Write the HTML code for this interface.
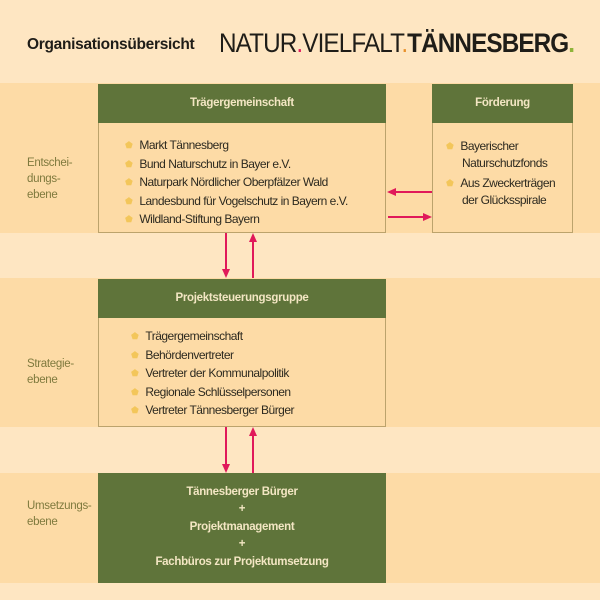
<!DOCTYPE html>
<html><head><meta charset="utf-8"><style>
body{margin:0;width:600px;height:600px;background:#fee6c2;position:relative;overflow:hidden;font-family:"Liberation Sans",sans-serif}
.abs{position:absolute}
.band{position:absolute;left:0;width:600px;background:#fddba6}
.box{position:absolute;border:1px solid #bca36c;background:#fddba6;box-sizing:border-box}
.hd{position:absolute;background:#5f743a;color:#f3e6c3;font-weight:bold;font-size:11.5px;text-align:center;box-sizing:border-box;letter-spacing:-0.3px}
.lbl{position:absolute;left:27px;color:#7f7a3e;font-size:11.5px;line-height:16px;letter-spacing:-0.3px}
ul{list-style:none;margin:0;padding:0;position:absolute;font-size:12px;color:#2d2a20;line-height:17.5px;letter-spacing:-0.5px;white-space:nowrap}
li::before{content:"⬟";color:#f3c65a;font-size:9px;margin-right:7px;position:relative;top:-1px}
</style></head><body>
<div class="abs" style="left:27px;top:36px;font-size:15.5px;font-weight:bold;color:#1f1d18;letter-spacing:-0.3px">Organisationsübersicht</div>
<div class="abs" style="left:219px;top:28px;font-size:27px;color:#1f1d18;letter-spacing:-1px;white-space:nowrap;transform:scaleX(0.9);transform-origin:left top"><span>NATUR</span><span style="color:#e0195a">.</span><span>VIELFALT</span><span style="color:#e8902a">.</span><b>TÄNNESBERG</b><span style="color:#8fb43a;font-weight:bold">.</span></div>

<div class="band" style="top:83px;height:150px"></div>
<div class="band" style="top:278px;height:149px"></div>
<div class="band" style="top:473px;height:110px"></div>

<div class="lbl" style="top:155px">Entschei-<br>dungs-<br>ebene</div>
<div class="lbl" style="top:356px">Strategie-<br>ebene</div>
<div class="lbl" style="top:498px">Umsetzungs-<br>ebene</div>

<div class="box" style="left:98px;top:84px;width:288px;height:149px"></div>
<div class="hd" style="left:98px;top:84px;width:288px;height:39px;line-height:39px">Trägergemeinschaft</div>
<ul style="left:125px;top:137px">
<li>Markt Tännesberg</li><li>Bund Naturschutz in Bayer e.V.</li><li>Naturpark Nördlicher Oberpfälzer Wald</li><li>Landesbund für Vogelschutz in Bayern e.V.</li><li>Wildland-Stiftung Bayern</li></ul>

<div class="box" style="left:432px;top:84px;width:141px;height:149px"></div>
<div class="hd" style="left:432px;top:84px;width:141px;height:39px;line-height:39px">Förderung</div>
<ul style="left:446px;top:138px;line-height:16px">
<li>Bayerischer<br><span style="margin-left:16px">Naturschutzfonds</span></li><li style="margin-top:4px">Aus Zweckerträgen<br><span style="margin-left:16px">der Glücksspirale</span></li></ul>

<div class="box" style="left:98px;top:279px;width:288px;height:148px"></div>
<div class="hd" style="left:98px;top:279px;width:288px;height:39px;line-height:39px">Projektsteuerungsgruppe</div>
<ul style="left:131px;top:328px">
<li>Trägergemeinschaft</li><li>Behördenvertreter</li><li>Vertreter der Kommunalpolitik</li><li>Regionale Schlüsselpersonen</li><li>Vertreter Tännesberger Bürger</li></ul>

<div class="hd" style="left:98px;top:473px;width:288px;height:110px;padding-top:11px;line-height:17.4px">Tännesberger Bürger<br>+<br>Projektmanagement<br>+<br>Fachbüros zur Projektumsetzung</div>

<svg class="abs" style="left:0;top:0" width="600" height="600">
<g stroke="#e0195a" stroke-width="2" fill="#e0195a">
<line x1="432" y1="192" x2="394" y2="192"/><polygon points="387,192 396,188 396,196" stroke="none"/>
<line x1="388" y1="217" x2="425" y2="217"/><polygon points="432,217 423,213 423,221" stroke="none"/>
<line x1="226" y1="233" x2="226" y2="270"/><polygon points="226,278 222,269 230,269" stroke="none"/>
<line x1="253" y1="278" x2="253" y2="241"/><polygon points="253,233 249,242 257,242" stroke="none"/>
<line x1="226" y1="427" x2="226" y2="465"/><polygon points="226,473 222,464 230,464" stroke="none"/>
<line x1="253" y1="473" x2="253" y2="435"/><polygon points="253,427 249,436 257,436" stroke="none"/>
</g></svg>
</body></html>
